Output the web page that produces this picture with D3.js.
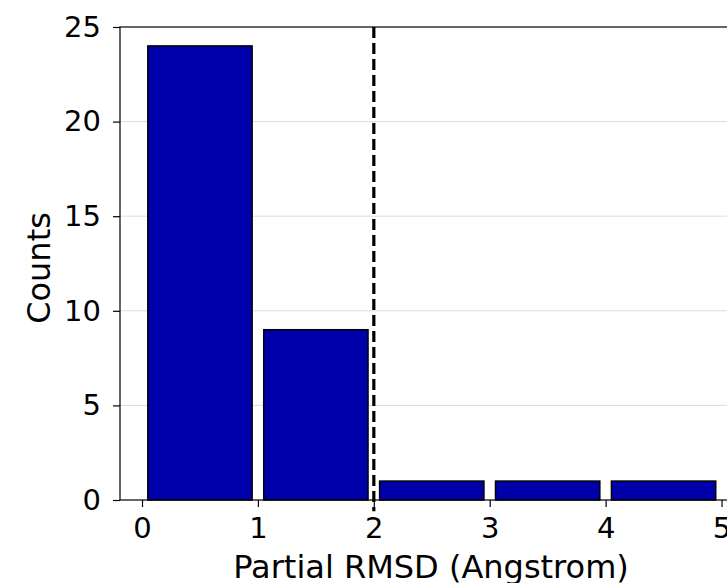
<!DOCTYPE html>
<html>
<head>
<meta charset="utf-8">
<script src="https://cdn.jsdelivr.net/npm/d3@7"></script>
<style>
  body { margin: 0; background: #fff; }
  svg { display: block; font-family: "DejaVu Sans", sans-serif; }
</style>
</head>
<body>
<div id="chart"></div>
<script>
// Histogram bins (left edge, width 1) and their counts
var binStarts = [0, 1, 2, 3, 4];
var counts = [24, 9, 1, 1, 1];
var xTicks = [0, 1, 2, 3, 4, 5];
var yTicks = [0, 5, 10, 15, 20, 25];
var cutoff = 2;

var width = 727;
var height = 583;
var rwidth = 0.9;

var svg = d3.select('#chart')
            .append('svg')
            .attr('width', width)
            .attr('height', height);

// Scales
var x = d3.scaleLinear()
          .domain([-0.19, 5.6])
          .range([120, 120 + 5.79 * 115.9]);
var y = d3.scaleLinear()
          .domain([0, 25])
          .range([500, 27]);

var left = x.range()[0];
var right = x.range()[1];

// Grid lines
svg.append('g')
   .attr('class', 'grid')
   .selectAll('line')
   .data(yTicks.slice(1, -1))
   .enter()
   .append('line')
   .attr('x1', left)
   .attr('x2', right)
   .attr('y1', function (d) { return y(d); })
   .attr('y2', function (d) { return y(d); })
   .attr('stroke', '#dcdcdc')
   .attr('stroke-width', 1);

// Bars
var pad = (1 - rwidth) / 2;
svg.append('g')
   .attr('class', 'bars')
   .selectAll('rect')
   .data(counts)
   .enter()
   .append('rect')
   .attr('x', function (d, i) { return x(binStarts[i] + pad); })
   .attr('width', function (d, i) { return x(binStarts[i] + 1 - pad) - x(binStarts[i] + pad); })
   .attr('y', function (d) { return y(d); })
   .attr('height', function (d) { return y(0) - y(d); })
   .attr('fill', '#0000aa')
   .attr('stroke', '#000')
   .attr('stroke-width', 1.5);

// Cutoff line (runs a little below the axis, as in the original)
svg.append('line')
   .attr('x1', x(cutoff))
   .attr('x2', x(cutoff))
   .attr('y1', y(25))
   .attr('y2', y(-0.6))
   .attr('stroke', '#000')
   .attr('stroke-width', 3.2)
   .attr('stroke-dasharray', '11,5');

// Axes
var xAxis = d3.axisBottom(x)
              .tickValues(xTicks)
              .tickFormat(d3.format('d'))
              .tickSize(7)
              .tickPadding(10);
var yAxis = d3.axisLeft(y)
              .tickValues(yTicks)
              .tickFormat(d3.format('d'))
              .tickSize(7)
              .tickPadding(12);

var gx = svg.append('g')
            .attr('transform', 'translate(0,' + y(0) + ')')
            .call(xAxis);
var gy = svg.append('g')
            .attr('transform', 'translate(' + left + ',0)')
            .call(yAxis);

[gx, gy].forEach(function (g) {
  g.select('.domain').remove();
  g.selectAll('.tick line').attr('stroke', '#000').attr('stroke-width', 1.2);
  g.selectAll('.tick text')
   .attr('fill', '#000')
   .style('font-size', '29px')
   .style('font-family', '"DejaVu Sans", sans-serif');
});

// Spines
svg.append('rect')
   .attr('x', left)
   .attr('y', y(25))
   .attr('width', right - left)
   .attr('height', y(0) - y(25))
   .attr('fill', 'none')
   .attr('stroke', '#000')
   .attr('stroke-width', 1.2);

// Labels
svg.append('text')
   .attr('x', 431)
   .attr('y', 578)
   .attr('text-anchor', 'middle')
   .style('font-size', '32px')
   .text('Partial RMSD (Angstrom)');

svg.append('text')
   .attr('transform', 'translate(50,268) rotate(-90)')
   .attr('text-anchor', 'middle')
   .style('font-size', '32px')
   .text('Counts');
</script>
</body>
</html>
